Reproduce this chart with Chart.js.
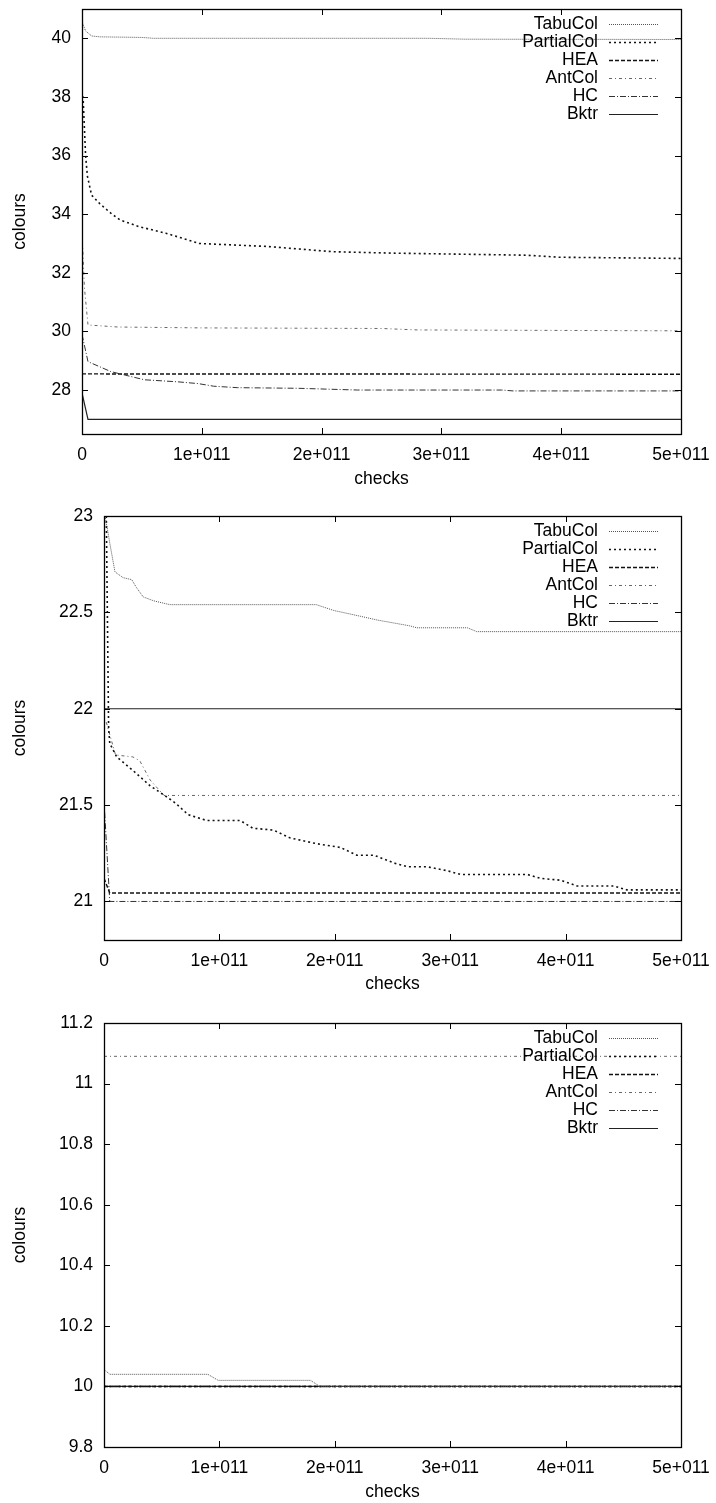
<!DOCTYPE html>
<html>
<head>
<meta charset="utf-8">
<script src="https://cdn.jsdelivr.net/npm/chart.js@4.4.1/dist/chart.umd.min.js"></script>
<style>
  body { margin: 0; background: #fff; }
  canvas { display: block; }
</style>
</head>
<body>
<canvas id="c1" width="716" height="490"></canvas>
<canvas id="c2" width="716" height="505"></canvas>
<canvas id="c3" width="716" height="508"></canvas>
<script>
// checks are given in units of 1e+011
const CHECK_UNIT = 1e11;
const seriesNames = ['TabuCol', 'PartialCol', 'HEA', 'AntCol', 'HC', 'Bktr'];
const xTicks = [0, 1, 2, 3, 4, 5];

// top plot
const yTicks1 = [28, 30, 32, 34, 36, 38, 40];
const tabuCol1 = [[0, 40.57], [0.03, 40.25], [0.08, 40.08], [0.15, 40.05], [0.5, 40.03], [0.6, 40.0], [2.9, 40.0], [3.2, 39.97], [5, 39.96]];
const partialCol1 = [[0, 38.2], [0.01, 37.9], [0.03, 36.0], [0.045, 35.3], [0.08, 34.65], [0.15, 34.35], [0.25, 34.0], [0.32, 33.8], [0.48, 33.57], [0.7, 33.35], [0.98, 33.0], [1.54, 32.9], [2.09, 32.72], [2.6, 32.67], [3.71, 32.6], [3.99, 32.53], [5, 32.49]];
const hea1 = [[0, 28.55], [5, 28.54]];
const antCol1 = [[0, 33.4], [0.02, 31.5], [0.05, 30.22], [0.3, 30.15], [1, 30.12], [2.5, 30.1], [2.8, 30.05], [5, 30.02]];
const hc1 = [[0, 29.9], [0.05, 28.97], [0.24, 28.63], [0.52, 28.35], [0.8, 28.28], [0.97, 28.22], [1.1, 28.13], [1.3, 28.08], [1.8, 28.06], [2.3, 28.0], [3.5, 28.0], [3.6, 27.97], [5, 27.97]];
const bktr1 = [[0, 27.9], [0.05, 27.0], [5, 27.0]];

// middle plot
const yTicks2 = [21, 21.5, 22, 22.5, 23];
const tabuCol2 = [[0.01, 23.0], [0.05, 22.86], [0.095, 22.71], [0.165, 22.68], [0.24, 22.67], [0.28, 22.63], [0.34, 22.58], [0.43, 22.56], [0.57, 22.54], [1.84, 22.54], [1.99, 22.51], [2.22, 22.48], [2.37, 22.46], [2.65, 22.43], [2.71, 22.42], [3.15, 22.42], [3.23, 22.4], [5, 22.4]];
const partialCol2 = [[0.02, 23.0], [0.04, 21.9], [0.05, 21.82], [0.11, 21.75], [0.25, 21.68], [0.4, 21.6], [0.55, 21.54], [0.62, 21.51], [0.73, 21.45], [0.89, 21.42], [1.18, 21.42], [1.29, 21.38], [1.47, 21.37], [1.61, 21.33], [1.84, 21.3], [2.05, 21.28], [2.19, 21.24], [2.34, 21.24], [2.51, 21.2], [2.63, 21.18], [2.8, 21.18], [2.97, 21.16], [3.09, 21.14], [3.67, 21.14], [3.78, 21.12], [3.96, 21.11], [4.1, 21.08], [4.42, 21.08], [4.53, 21.06], [5, 21.06]];
const hea2 = [[0, 21.12], [0.05, 21.044], [5, 21.044]];
const antCol2 = [[0.02, 21.93], [0.1, 21.76], [0.25, 21.75], [0.31, 21.73], [0.4, 21.63], [0.52, 21.55], [5, 21.55]];
const hc2 = [[0, 21.52], [0.05, 21.0], [5, 21.0]];
const bktr2 = [[0, 22.0], [5, 22.0]];

// bottom plot
const yTicks3 = [9.8, 10, 10.2, 10.4, 10.6, 10.8, 11, 11.2];
const tabuCol3 = [[0, 10.056], [0.05, 10.04], [0.9, 10.04], [0.99, 10.02], [1.79, 10.02], [1.87, 10.0], [5, 10.0]];
const partialCol3 = [[0, 10.0], [5, 10.0]];
const hea3 = [[0, 10.0], [5, 10.0]];
const antCol3 = [[0, 11.09], [5, 11.09]];
const hc3 = [[0, 10.0], [5, 10.0]];
const bktr3 = [[0, 10.0], [5, 10.0]];

// line styles, same order as seriesNames
const styles = [
    { color: '#555', width: 1, dash: [1, 1] },
    { color: '#111', width: 1.6, dash: [2, 3] },
    { color: '#111', width: 1.4, dash: [4, 2] },
    { color: '#666', width: 1, dash: [3, 3, 1, 3] },
    { color: '#333', width: 1, dash: [6, 2, 1, 2] },
    { color: '#222', width: 1.2, dash: [] }
];

const FONT = { family: 'Liberation Sans, Arial, sans-serif', size: 17.5 };

// gnuplot-like frame, inward ticks and key
const gnuplotFrame = {
    id: 'gnuplotFrame',
    afterDatasetsDraw(chart) {
        const { ctx, chartArea: a, scales: { x, y } } = chart;
        ctx.save();
        ctx.strokeStyle = '#000';
        ctx.lineWidth = 1;
        ctx.setLineDash([]);
        ctx.beginPath();
        for (const t of x.ticks) {
            const px = Math.round(x.getPixelForValue(t.value)) + 0.5;
            ctx.moveTo(px, a.bottom); ctx.lineTo(px, a.bottom - 6);
            ctx.moveTo(px, a.top); ctx.lineTo(px, a.top + 6);
        }
        for (const t of y.ticks) {
            const py = Math.round(y.getPixelForValue(t.value)) + 0.5;
            ctx.moveTo(a.left, py); ctx.lineTo(a.left + 6, py);
            ctx.moveTo(a.right, py); ctx.lineTo(a.right - 6, py);
        }
        ctx.stroke();
        ctx.lineWidth = 1.3;
        ctx.strokeRect(Math.round(a.left) + 0.5, Math.round(a.top) + 0.5, Math.round(a.width), Math.round(a.height));

        // key
        ctx.font = FONT.size + 'px ' + FONT.family;
        ctx.textAlign = 'right';
        ctx.textBaseline = 'middle';
        chart.data.datasets.forEach((ds, i) => {
            const ry = a.top + 15 + i * 18;
            ctx.fillStyle = '#000';
            ctx.fillText(ds.label, a.right - 83, ry);
            ctx.strokeStyle = ds.borderColor;
            ctx.lineWidth = ds.borderWidth;
            ctx.setLineDash(ds.borderDash);
            ctx.beginPath();
            ctx.moveTo(a.right - 72, Math.round(ry) + 0.5);
            ctx.lineTo(a.right - 23, Math.round(ry) + 0.5);
            ctx.stroke();
        });
        ctx.restore();
    }
};

function fmtTick(v) {
    return String(+v.toFixed(2));
}

function makeChart(id, series, yTicks, yMin, yMax, leftWidth, topPad, xHeight) {
    const ctx = document.getElementById(id).getContext('2d');
    return new Chart(ctx, {
        type: 'line',
        data: {
            datasets: series.map((pts, i) => ({
                label: seriesNames[i],
                data: pts.map(p => ({ x: p[0] * CHECK_UNIT, y: p[1] })),
                borderColor: styles[i].color,
                borderWidth: styles[i].width,
                borderDash: styles[i].dash,
                pointRadius: 0,
                tension: 0,
                fill: false
            }))
        },
        options: {
            responsive: false,
            animation: false,
            events: [],
            layout: { padding: { top: topPad, right: 35, left: 0, bottom: 0 } },
            plugins: { legend: { display: false }, tooltip: { enabled: false } },
            scales: {
                x: {
                    type: 'linear',
                    min: 0,
                    max: 5 * CHECK_UNIT,
                    grid: { display: false, drawTicks: false },
                    border: { display: false },
                    afterBuildTicks: s => { s.ticks = xTicks.map(v => ({ value: v * CHECK_UNIT })); },
                    afterFit: s => { s.height = xHeight; s.paddingLeft = 0; s.paddingRight = 0; },
                    ticks: {
                        color: '#000',
                        font: FONT,
                        padding: 11,
                        maxRotation: 0,
                        autoSkip: false,
                        callback: v => v === 0 ? '0' : (v / CHECK_UNIT) + 'e+011'
                    },
                    title: { display: true, text: 'checks', color: '#000', font: FONT, padding: { top: 0, bottom: 0 } }
                },
                y: {
                    min: yMin,
                    max: yMax,
                    grid: { display: false, drawTicks: false },
                    border: { display: false },
                    afterBuildTicks: s => { s.ticks = yTicks.map(v => ({ value: v })); },
                    afterFit: s => { s.width = leftWidth; s.paddingTop = 0; s.paddingBottom = 0; },
                    ticks: { color: '#000', font: FONT, padding: 11, autoSkip: false, callback: fmtTick },
                    title: { display: true, text: 'colours', color: '#000', font: FONT, padding: { top: 10, bottom: 0 } }
                }
            }
        },
        plugins: [gnuplotFrame]
    });
}

makeChart('c1', [tabuCol1, partialCol1, hea1, antCol1, hc1, bktr1], yTicks1, 26.5, 41, 82, 9, 56);
makeChart('c2', [tabuCol2, partialCol2, hea2, antCol2, hc2, bktr2], yTicks2, 20.8, 23, 104, 26, 55);
makeChart('c3', [tabuCol3, partialCol3, hea3, antCol3, hc3, bktr3], yTicks3, 9.8, 11.2, 104, 28, 56);
</script>
</body>
</html>
